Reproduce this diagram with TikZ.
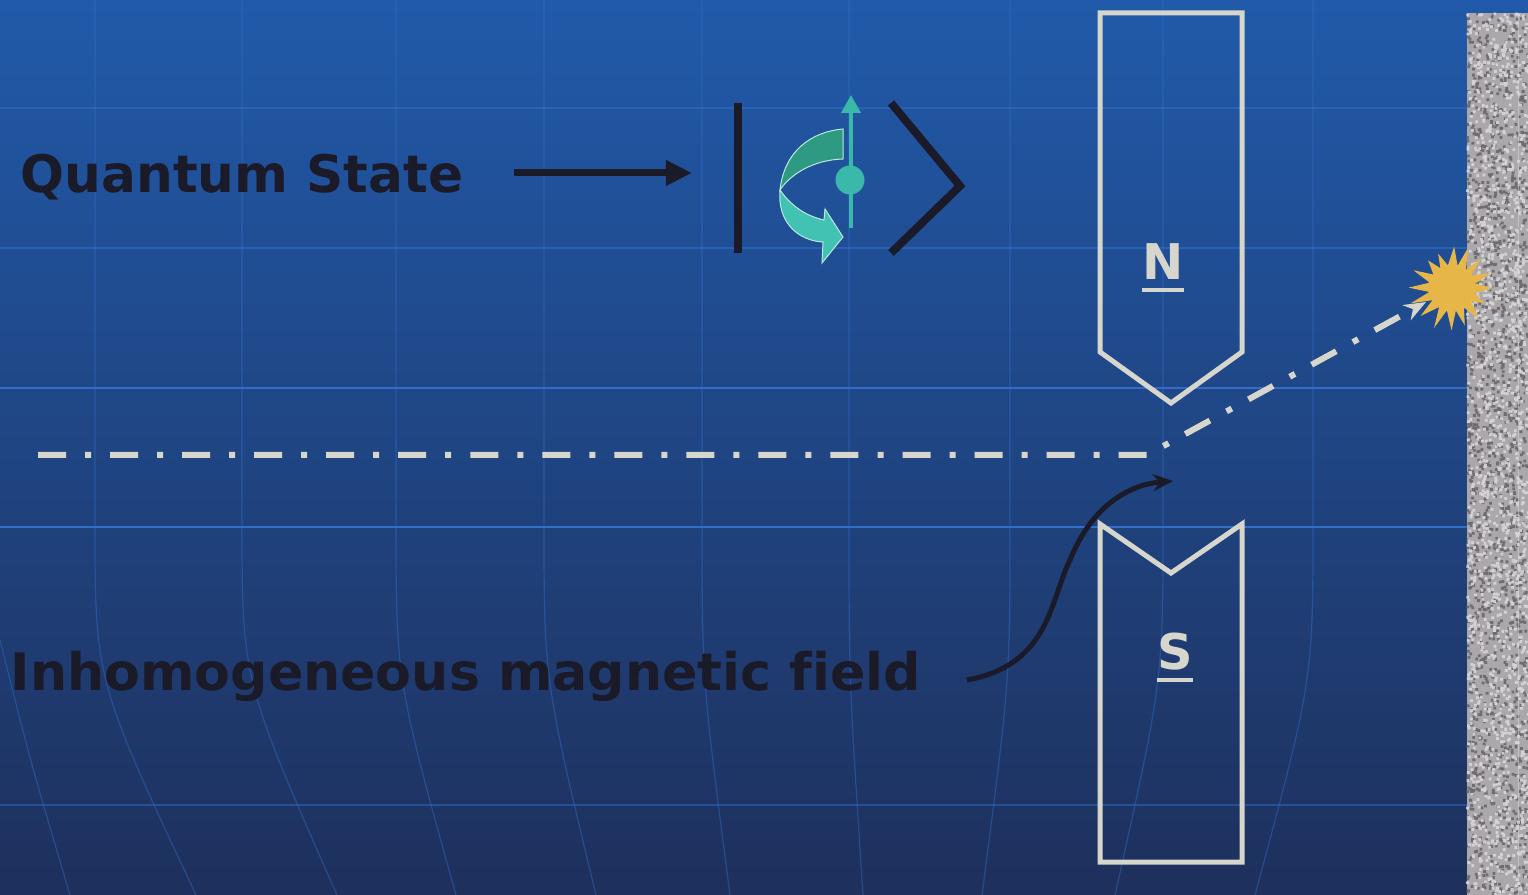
\documentclass[tikz,border=0pt]{standalone}
\usepackage{fontspec}
\setsansfont[Ligatures=NoCommon]{DejaVu Sans}
\usetikzlibrary{arrows.meta,calc}

\definecolor{bgtop}{RGB}{33,90,170}
\definecolor{bgmid}{RGB}{31,72,146}
\definecolor{bgbot}{RGB}{30,48,92}
\definecolor{gridblue}{RGB}{52,116,210}
\definecolor{ink}{RGB}{26,26,40}
\definecolor{chalk}{RGB}{214,214,204}
\definecolor{spin}{RGB}{58,184,170}
\definecolor{ribbonlow}{RGB}{66,194,178}
\definecolor{ribbonup}{RGB}{46,154,130}
\definecolor{ribbonedge}{RGB}{190,232,222}
\definecolor{burst}{RGB}{230,182,72}
\definecolor{stone}{RGB}{170,168,171}
\definecolor{stonedark}{RGB}{92,90,95}
\definecolor{stonelight}{RGB}{220,218,220}

\tikzset{
  label text/.style={font=\sffamily\bfseries\fontsize{14.7}{17}\selectfont, text=ink, inner sep=0pt},
  pole text/.style={font=\sffamily\bfseries\fontsize{14}{16}\selectfont, text=chalk, inner sep=0pt},
  grid line/.style={gridblue, line width=0.012cm},
  magnet/.style={chalk, line width=0.05cm, line join=miter},
  ket/.style={ink, line width=0.08cm, line join=miter},
  beam/.style={chalk, line width=0.06cm, dash pattern=on 0.28cm off 0.19cm on 0.06cm off 0.19cm},
  pointer/.style={ink, line width=0.06cm},
}

\begin{document}
\begin{tikzpicture}[x=0.01cm, y=-0.01cm]
  \useasboundingbox (0,0) rectangle (1528,895);

  % background
  \shade[top color=bgtop, middle color=bgmid, bottom color=bgbot] (0,0) rectangle (1528,895);

  % faint grid
  \foreach \yy/\op in {108/0.45, 248/0.5, 388/0.85, 527/0.9, 805/0.45}
    \draw[gridblue, line width=0.025cm, opacity=\op] (0,\yy) -- (1467,\yy);
  \foreach \xa/\xb in {95/196, 242/337, 396/456, 544/596, 702/730, 849/863, 1010/982, 1163/1115, 1313/1255}
    \draw[grid line, opacity=0.4] (\xa,0) -- (\xa,520) .. controls (\xa,680) .. (\xb,895);
  \draw[grid line, opacity=0.4] (0,640) .. controls (30,760) .. (70,895);

  % detection screen
  \fill[stone] (1467,13) rectangle (1528,895);
  \pgfmathsetseed{11}
  \fill[stonedark, opacity=0.75] \foreach \i in {1,...,1700}{ ({1466+61*rnd},{12+882*rnd}) rectangle ++(2.8,2.8) };
  \fill[stonelight, opacity=0.85] \foreach \i in {1,...,1600}{ ({1466+61*rnd},{12+882*rnd}) rectangle ++(2.8,2.8) };
  \draw[stonelight, line width=0.01cm, opacity=0.5] (1518,13) -- (1518,895);

  % labels
  \node[label text, anchor=base west] (qs) at (20,193) {Quantum State};
  \node[label text, anchor=base west] (imf) at (10,690) {\scalebox{1.01}[1]{Inhomogeneous magnetic field}};

  % ket |spin>
  \coordinate (ketbartop) at (738,103);
  \coordinate (ketbarbot) at (738,253);
  \draw[ket] (ketbartop) -- (ketbarbot);
  \draw[ket] (891,103) -- (960,186) -- (891,253);

  % ribbon arrow around the spin
  \filldraw[fill=ribbonup, draw=ribbonedge, line width=0.01cm]
    (843,129) .. controls (810,132) and (784,152) .. (780,190)
    .. controls (790,175) and (812,160) .. (843,159) -- cycle;
  \filldraw[fill=ribbonlow, draw=ribbonedge, line width=0.01cm]
    (780,190) .. controls (777,224) and (800,241) .. (823,242)
    -- (822,263) -- (843,237) -- (825,209) -- (824,220)
    .. controls (806,216) and (791,206) .. (780,190) -- cycle;

  % spin vector
  \node[circle, fill=spin, minimum size=0.29cm, inner sep=0pt] (spindot) at (850,180) {};
  \coordinate (spintail) at (851,228);
  \coordinate (spintip) at (851,95);
  \draw[spin, line width=0.04cm, -{Triangle[length=0.18cm, width=0.19cm]}] (spintail) -- (spintip);

  % pointer from the label to the state
  \draw[pointer, line width=0.07cm, -{Triangle[length=0.26cm, width=0.24cm]}]
    ([xshift=0.5cm]qs.east |- 0,173) -- ([xshift=-0.46cm]ketbartop |- 0,173);

  % Stern-Gerlach magnets
  \draw[magnet] (1100,13) -- (1242,13) -- (1242,352) -- (1171,403) -- (1100,352) -- cycle;
  \draw[magnet] (1100,862) -- (1242,862) -- (1242,524) -- (1171,573) -- (1100,524) -- cycle;
  \node[pole text] (pn) at (1163,262) {N};
  \node[pole text] (ps) at (1175,652) {S};
  \draw[chalk, line width=0.04cm] ([yshift=-0.09cm]pn.south west) -- ([yshift=-0.09cm]pn.south east);
  \draw[chalk, line width=0.04cm] ([yshift=-0.09cm]ps.south west) -- ([yshift=-0.09cm]ps.south east);

  % impact on the screen
  \coordinate (bc) at (1452,288);
  \pgfmathsetseed{5}
  \fill[burst] ($(bc)+(0:40)$)
    \foreach \i in {1,...,31}{ -- ($(bc)+({\i*11.25+4*rnd}:{23+mod(\i+1,2)*(12+10*rnd)})$) } -- cycle;

  % atom beam
  \coordinate (src) at (38,455);
  \coordinate (bend) at (1147,455);
  \coordinate (hit) at (1426,302);
  \draw[beam, -{Stealth[length=0.22cm, width=0.17cm]}] (src) -- (bend) -- (hit);

  % pointer to the field region
  \coordinate (fieldtip) at (1173,481);
  \draw[pointer, line width=0.05cm, -{Stealth[length=0.2cm, width=0.17cm]}]
    ([xshift=0.45cm]imf.east |- 0,680) .. controls (1050,665) and (1050,600) .. (1070,560)
    .. controls (1090,510) and (1125,485) .. (fieldtip);
\end{tikzpicture}
\end{document}
